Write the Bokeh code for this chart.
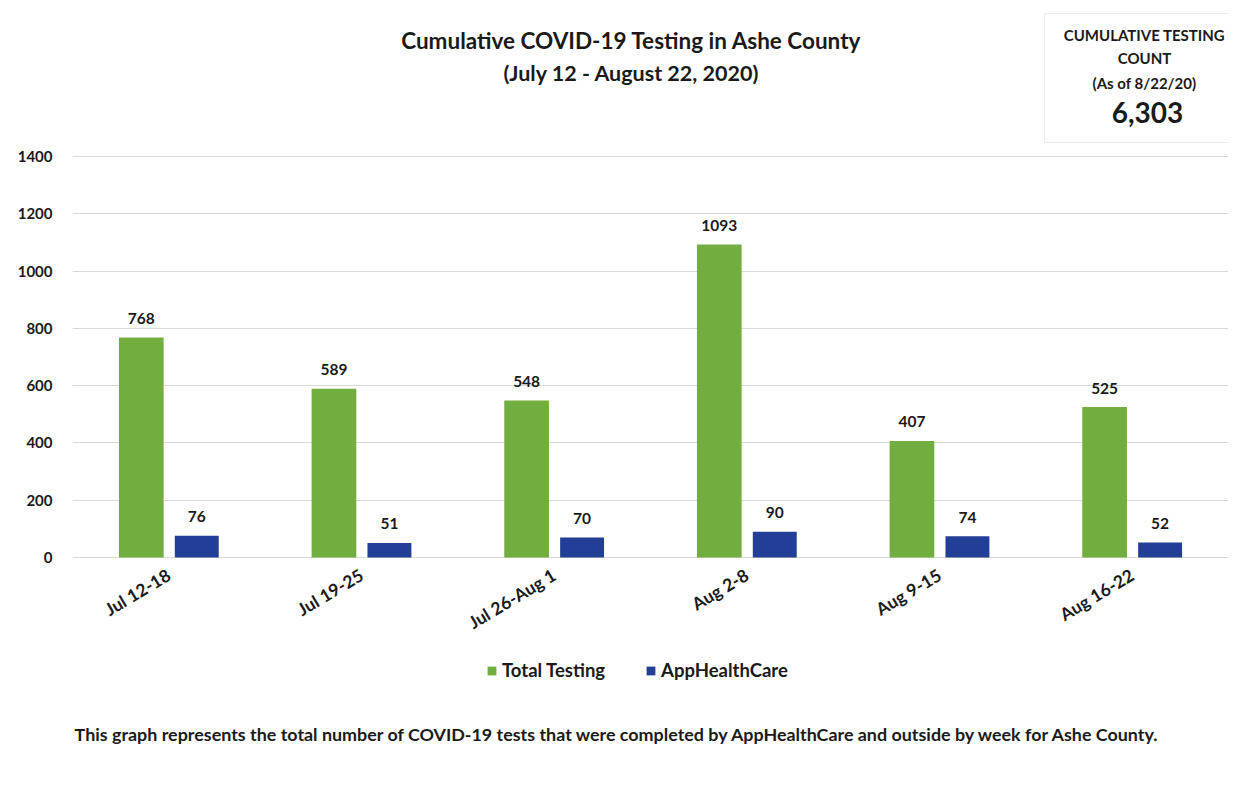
from bokeh.plotting import figure
from bokeh.models import (ColumnDataSource, FactorRange, Range1d, LabelSet, Label,
                          BoxAnnotation, Legend, LegendItem, FixedTicker)
from bokeh.transform import dodge
from bokeh.core.properties import value
from bokeh.embed import file_html
from bokeh.resources import INLINE

weeks = ["Jul 12-18", "Jul 19-25", "Jul 26-Aug 1", "Aug 2-8", "Aug 9-15", "Aug 16-22"]
total_testing = [768, 589, 548, 1093, 407, 525]
apphealthcare = [76, 51, 70, 90, 74, 52]
y_ticks = [0, 200, 400, 600, 800, 1000, 1200, 1400]

title_line1 = "Cumulative COVID-19 Testing in Ashe County"
title_line2 = "(July 12 - August 22, 2020)"
box_lines = ["CUMULATIVE TESTING", "COUNT", "(As of 8/22/20)"]
box_count = "6,303"
footnote = ("This graph represents the total number of COVID-19 tests that were "
            "completed by AppHealthCare and outside by week for Ashe County.")

GREEN = "#72AD3F"
BLUE = "#233E96"
FONT = "Lato"
INK = "#1a1a1a"

src = ColumnDataSource(dict(
    weeks=weeks,
    total=total_testing,
    app=apphealthcare,
    total_lbl=[str(v) for v in total_testing],
    app_lbl=[str(v) for v in apphealthcare],
))

W, H = 1234, 776
# frame spans the whole height; the value axis keeps 0..1400 in the chart band
p = figure(width=W, height=H, x_range=FactorRange(*weeks), y_range=Range1d(-764.6, 1944.6),
           output_backend="svg", toolbar_location=None,
           min_border_left=72, min_border_right=6, min_border_top=0, min_border_bottom=0)
p.outline_line_color = None
p.background_fill_color = "white"
p.border_fill_color = "white"

g = p.vbar(x=dodge("weeks", -0.143, range=p.x_range), top="total", width=0.232,
           source=src, fill_color=GREEN, line_color=None)
b = p.vbar(x=dodge("weeks", 0.145, range=p.x_range), top="app", width=0.228,
           source=src, fill_color=BLUE, line_color=None)

for col, ycol, off in (("total_lbl", "total", -0.143), ("app_lbl", "app", 0.145)):
    p.add_layout(LabelSet(x=dodge("weeks", off, range=p.x_range), y=ycol, text=col,
                          source=src, y_offset=19, text_align="center",
                          text_baseline="middle", text_font=value(FONT),
                          text_font_style="bold", text_font_size="15.5px",
                          text_color=INK))

# axes
p.yaxis.ticker = FixedTicker(ticks=y_ticks)
p.yaxis.axis_line_color = None
p.yaxis.major_tick_line_color = None
p.yaxis.minor_tick_line_color = None
p.yaxis.major_tick_out = 0
p.yaxis.major_tick_in = 0
p.yaxis.major_label_standoff = 20
p.yaxis.major_label_text_font = FONT
p.yaxis.major_label_text_font_style = "bold"
p.yaxis.major_label_text_font_size = "15px"
p.yaxis.major_label_text_color = INK

p.xaxis.fixed_location = 0
p.xaxis.axis_line_color = None
p.xaxis.major_tick_line_color = None
p.xaxis.minor_tick_line_color = None
p.xaxis.major_tick_out = 0
p.xaxis.major_tick_in = 0
p.xaxis.major_label_standoff = 16
p.xaxis.major_label_orientation = 0.54
p.xaxis.major_label_text_font = FONT
p.xaxis.major_label_text_font_style = "bold"
p.xaxis.major_label_text_font_size = "17.5px"
p.xaxis.major_label_text_color = INK

p.xgrid.grid_line_color = None
p.ygrid.grid_line_color = "#d9d9d9"
p.ygrid.grid_line_width = 1

# titles
p.add_layout(Label(x=559, y=736, x_units="screen", y_units="screen", text=title_line1,
                   text_align="center", text_baseline="middle", text_font=FONT,
                   text_font_style="bold", text_font_size="22.5px", text_color=INK))
p.add_layout(Label(x=559, y=704, x_units="screen", y_units="screen", text=title_line2,
                   text_align="center", text_baseline="middle", text_font=FONT,
                   text_font_style="bold", text_font_size="21.5px", text_color=INK))

# count box
p.add_layout(BoxAnnotation(left=972, right=1200, top=763, bottom=634,
                           left_units="screen", right_units="screen",
                           top_units="screen", bottom_units="screen",
                           fill_color="white", fill_alpha=1, line_color="#c4c4c4",
                           line_width=1))
for txt, yy in zip(box_lines, [742, 719, 694]):
    p.add_layout(Label(x=1072, y=yy, x_units="screen", y_units="screen", text=txt,
                       text_align="center", text_baseline="middle", text_font=FONT,
                       text_font_style="bold", text_font_size="15px", text_color=INK))
p.add_layout(Label(x=1075, y=664, x_units="screen", y_units="screen", text=box_count,
                   text_align="center", text_baseline="middle", text_font=FONT,
                   text_font_style="bold", text_font_size="28px", text_color=INK))

# legend
legend = Legend(items=[LegendItem(label="Total Testing", renderers=[g]),
                       LegendItem(label="AppHealthCare", renderers=[b])],
                orientation="horizontal", location=(414, 95),
                glyph_width=11, glyph_height=11, label_standoff=5, spacing=40,
                padding=0, margin=0, background_fill_alpha=0, border_line_color=None,
                label_text_font=FONT, label_text_font_style="bold",
                label_text_font_size="18.5px", label_text_color=INK)
p.add_layout(legend, "center")

# footnote
p.add_layout(Label(x=545.5, y=43, x_units="screen", y_units="screen", text=footnote,
                   text_align="center", text_baseline="middle", text_font=FONT,
                   text_font_style="bold", text_font_size="17.9px", text_color=INK))

open("out.html", "w").write(file_html(p, INLINE))
